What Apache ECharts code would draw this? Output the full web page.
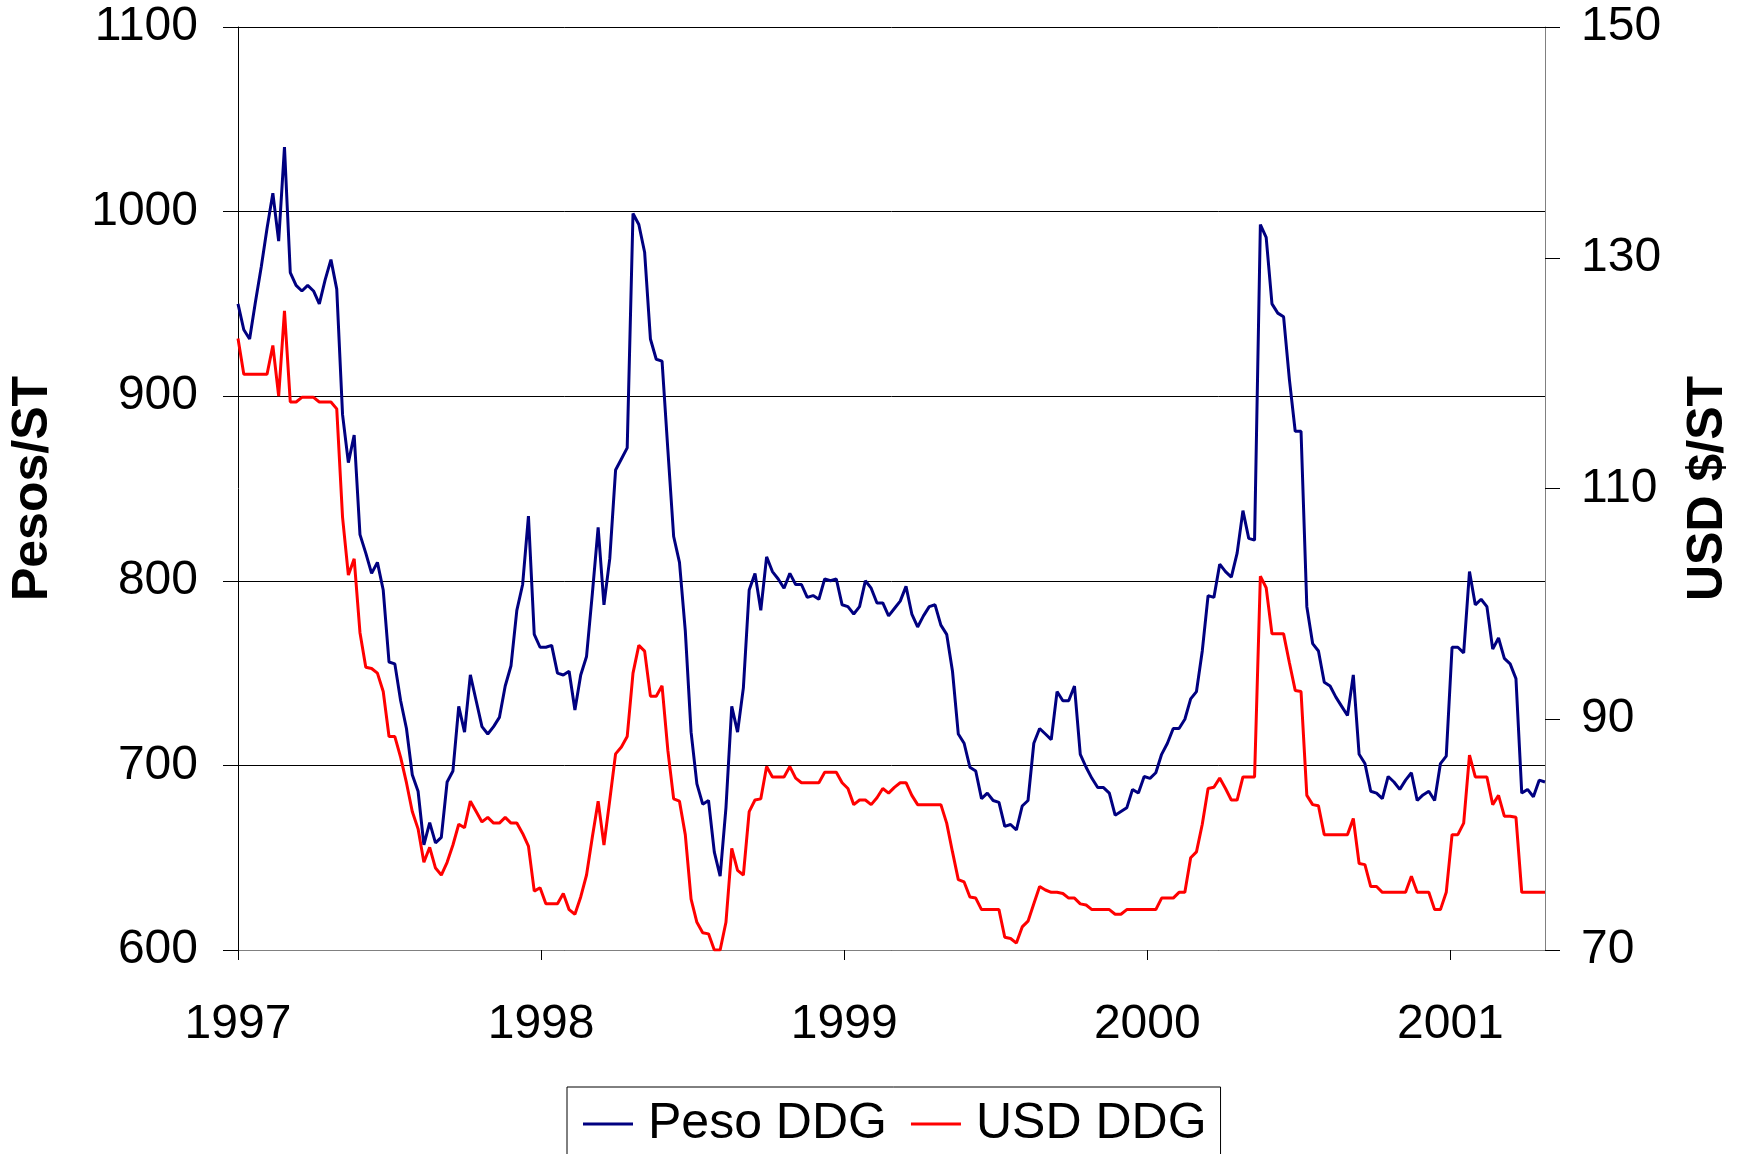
<!DOCTYPE html>
<html style='height: 100%'>
<head>
    <meta charset='utf-8'>
</head>
<body style='height: 100%; margin: 0'>
    <div id='container' style='width: 1746px; height: 1154px'></div>
    <script type='text/javascript' src='https://cdn.jsdelivr.net/npm/echarts@6/dist/echarts.min.js'></script>
    <script type="text/javascript">
// weekly prices, first week of 1997 onward
var startYear = 1997;
var yearLabels = [1997, 1998, 1999, 2000, 2001];
var seriesNames = ['Peso DDG', 'USD DDG'];

var pesoDDG = [
    950, 936, 931, 951, 970, 991, 1010, 984, 1035, 967,
    960, 957, 960, 957, 950, 963, 974, 958, 890, 864,
    879, 825, 815, 804, 810, 795, 756, 755, 735, 720,
    695, 686, 657, 669, 658, 661, 691, 697, 732, 718,
    749, 735, 721, 717, 721, 726, 743, 754, 784, 798,
    835, 771, 764, 764, 765, 750, 749, 751, 730, 749,
    759, 793, 829, 787, 812, 860, 866, 872, 999, 993,
    978, 931, 920, 919, 871, 824, 810, 773, 718, 690,
    679, 681, 653, 640, 677, 732, 718, 742, 795, 804,
    784, 813, 805, 801, 796, 804, 798, 798, 791, 792,
    790, 801, 800, 801, 787, 786, 782, 786, 800, 796,
    788, 788, 781, 785, 789, 797, 782, 775, 781, 786,
    787, 776, 771, 751, 717, 712, 699, 697, 682, 685,
    681, 680, 667, 668, 665, 678, 681, 712, 720, 717,
    714, 740, 735, 735, 743, 706, 699, 693, 688, 688,
    685, 673, 675, 677, 687, 685, 694, 693, 696, 706,
    712, 720, 720, 725, 736, 740, 762, 792, 791, 809,
    805, 802, 815, 838, 823, 822, 993, 986, 950, 945,
    943, 909, 881, 881, 786, 766, 762, 745, 743, 737,
    732, 727, 749, 706, 701, 686, 685, 682, 694, 691,
    687, 692, 696, 681, 684, 686, 681, 701, 705, 764,
    764, 761, 805, 787, 790, 786, 763, 769, 758, 755,
    747, 685, 687, 683, 692, 691
];

var usdDDG = [
    123.0, 119.9, 119.9, 119.9, 119.9, 119.9, 122.4, 118.0, 125.4, 117.5,
    117.5, 117.9, 117.9, 117.9, 117.5, 117.5, 117.5, 116.9, 107.5, 102.5,
    103.9, 97.5, 94.5, 94.4, 94.0, 92.4, 88.5, 88.5, 86.7, 84.5,
    82.0, 80.5, 77.6, 78.9, 77.1, 76.5, 77.6, 79.1, 80.9, 80.6,
    82.9, 82.0, 81.1, 81.5, 81.0, 81.0, 81.5, 81.0, 81.0, 80.1,
    79.0, 75.1, 75.4, 74.0, 74.0, 74.0, 74.9, 73.5, 73.1, 74.6,
    76.5, 79.8, 82.9, 79.1, 83.0, 87.0, 87.6, 88.5, 94.0, 96.4,
    95.9, 92.0, 92.0, 92.9, 87.3, 83.1, 82.9, 80.0, 74.4, 72.4,
    71.5, 71.4, 70.0, 70.0, 72.4, 78.8, 76.9, 76.5, 82.0, 83.0,
    83.1, 85.9, 85.0, 85.0, 85.0, 85.9, 84.9, 84.5, 84.5, 84.5,
    84.5, 85.4, 85.4, 85.4, 84.5, 84.0, 82.6, 83.0, 83.0, 82.6,
    83.2, 84.0, 83.6, 84.1, 84.5, 84.5, 83.4, 82.6, 82.6, 82.6,
    82.6, 82.6, 81.0, 78.5, 76.1, 75.9, 74.6, 74.5, 73.5, 73.5,
    73.5, 73.5, 71.1, 71.0, 70.6, 72.0, 72.5, 74.0, 75.5, 75.2,
    75.0, 75.0, 74.9, 74.5, 74.5, 74.0, 73.9, 73.5, 73.5, 73.5,
    73.5, 73.1, 73.1, 73.5, 73.5, 73.5, 73.5, 73.5, 73.5, 74.5,
    74.5, 74.5, 75.0, 75.0, 78.0, 78.5, 80.9, 84.0, 84.1, 84.9,
    84.0, 83.0, 83.0, 85.0, 85.0, 85.0, 102.4, 101.4, 97.4, 97.4,
    97.4, 94.9, 92.5, 92.4, 83.4, 82.6, 82.5, 80.0, 80.0, 80.0,
    80.0, 80.0, 81.4, 77.5, 77.4, 75.5, 75.5, 75.0, 75.0, 75.0,
    75.0, 75.0, 76.4, 75.0, 75.0, 75.0, 73.5, 73.5, 75.0, 80.0,
    80.0, 81.0, 86.9, 85.0, 85.0, 85.0, 82.6, 83.4, 81.6, 81.6,
    81.5, 75.0, 75.0, 75.0, 75.0, 75.0
];

// x position of each weekly observation, in years
function weekPos(i) {
    return startYear + i * 7 / 365.25;
}
var pesoData = pesoDDG.map(function (v, i) { return [weekPos(i), v]; });
var usdData = usdDDG.map(function (v, i) { return [weekPos(i), v]; });
var xMax = weekPos(pesoDDG.length - 1);

var font = "'Liberation Sans', Arial, sans-serif";

var dom = document.getElementById("container");
var myChart = echarts.init(dom);
var option = {
    animation: false,
    backgroundColor: '#fff',
    textStyle: { fontFamily: font },
    grid: { left: 236, right: 201, top: 27, bottom: 204 },
    legend: {
        data: seriesNames,
        left: 567,
        top: 1087,
        padding: [12, 14, 30, 16],
        borderColor: '#000',
        borderWidth: 1,
        itemGap: 24,
        itemWidth: 50,
        itemHeight: 3,
        icon: 'rect',
        textStyle: { fontSize: 50, color: '#000', fontFamily: font, padding: [0, 0, 0, 10] }
    },
    xAxis: {
        type: 'value',
        min: startYear,
        max: xMax,
        interval: 1,
        axisLine: { lineStyle: { color: '#808080', width: 1 } },
        axisTick: { length: 10, lineStyle: { color: '#000' } },
        splitLine: { show: false },
        axisLabel: {
            fontSize: 48, color: '#000', margin: 51, showMaxLabel: false,
            formatter: function (v) { return yearLabels.indexOf(v) >= 0 ? String(v) : ''; }
        }
    },
    yAxis: [
        {
            type: 'value',
            name: 'Pesos/ST',
            nameLocation: 'middle',
            nameRotate: 90,
            nameGap: 180,
            nameTextStyle: { fontSize: 50, fontWeight: 'bold', color: '#000', fontFamily: font },
            min: 600,
            max: 1100,
            interval: 100,
            axisLine: { show: true, lineStyle: { color: '#000', width: 1 } },
            axisTick: { show: true, length: 15, lineStyle: { color: '#000' } },
            splitLine: { show: true, lineStyle: { color: '#000', width: 1 } },
            axisLabel: {
                fontSize: 48, color: '#000', margin: 40,
                formatter: function (v) { return String(v); }
            }
        },
        {
            type: 'value',
            name: 'USD $/ST',
            nameLocation: 'middle',
            nameRotate: 90,
            nameGap: 138,
            nameTextStyle: { fontSize: 50, fontWeight: 'bold', color: '#000', fontFamily: font },
            min: 70,
            max: 150,
            interval: 20,
            axisLine: { show: true, lineStyle: { color: '#808080', width: 1 } },
            axisTick: { show: true, length: 15, lineStyle: { color: '#000' } },
            splitLine: { show: false },
            axisLabel: { fontSize: 48, color: '#000', margin: 36 }
        }
    ],
    series: [
        {
            name: 'Peso DDG',
            type: 'line',
            yAxisIndex: 0,
            data: pesoData,
            showSymbol: false,
            symbol: 'none',
            color: '#000080',
            lineStyle: { color: '#000080', width: 3 }
        },
        {
            name: 'USD DDG',
            type: 'line',
            yAxisIndex: 1,
            data: usdData,
            showSymbol: false,
            symbol: 'none',
            color: '#ff0000',
            lineStyle: { color: '#ff0000', width: 3 }
        }
    ]
};
myChart.setOption(option, true);
    </script>
</body>
</html>
